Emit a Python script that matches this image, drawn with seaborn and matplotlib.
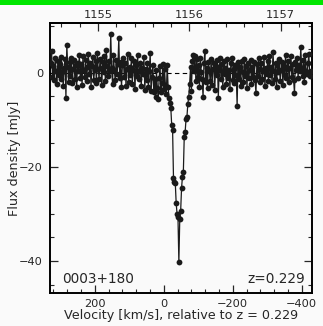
import numpy as np
import pandas as pd
import matplotlib
matplotlib.use("Agg")
import matplotlib.pyplot as plt
from matplotlib.ticker import MultipleLocator
from matplotlib.patches import Rectangle
import seaborn as sns

# ---- data ----
v_start = 328.0        # km/s, first channel
chan_width = 2.6       # km/s per channel

flux_left = [
    2.1, 4.7, -0.8, 1.5, -1.6, 3.2, 0.4, -2.3, 2.6, -0.5,
    1.8, -1.2, 3.4, 0.2, -2.8, 1.1, 2.9, -5.3, 6.0, 1.3,
    -1.9, 2.4, -0.6, 3.1, -2.2, 0.9, 2.7, -1.4, 1.6, -3.0,
    2.2, 0.5, 3.8, -1.1, 1.9, -2.5, 3.5, 0.7, -0.9, 2.8,
    -1.7, 1.2, 4.1, -0.3, 2.0, -2.9, 1.4, 3.3, -1.5, 0.6,
    2.5, -2.1, 4.3, 0.8, -1.3, 3.0, 1.1, -2.6, 2.3, 0.1,
    3.6, -1.8, 4.9, 1.5, -0.7, 2.6, 0.3, 8.3, 1.0, -2.4,
    3.9, 0.6, -1.6, 2.7, -0.2, 1.8, 7.4, -1.0, 2.4, -3.1,
    1.7, 3.2, -0.8, 2.1, -2.7, 0.9, 4.0, -1.9, 1.3, -0.4,
    3.1, -2.3, 0.7, 2.5, -3.4, 1.6, -0.6, 3.7, -1.2, 0.4,
    2.2, -2.8, 1.0, -0.3, 3.3, -3.6, 0.8, -1.5, 2.0, -2.9,
    0.3, 4.2, -3.8, -0.9, 1.7, -4.1, -1.3, -5.2, 0.6, -3.3,
    -5.5, -1.1, 1.5, -4.0, -2.2, 1.9, -3.5, 0.8, -2.6, -4.5,
    1.7, -3.0, -5.3,
]
flux_line = [
    -6.4, -7.4, -11.1, -12.1, -22.3, -23.2, -23.4, -27.7, -30.0, -30.6,
    -40.2, -31.1, -29.4, -24.5, -22.1, -21.1, -13.6, -12.6, -9.8, -9.4,
    -6.6, -5.1,
]
flux_right = [
    -2.4, 1.2, -3.9, 2.6, 3.8, 0.5, 3.5, -1.7, 2.9, -0.8,
    1.6, -2.9, 3.2, 0.2, -1.4, -5.1, 2.1, 4.7, -2.0, 1.0,
    -3.3, 2.4, 0.4, -1.8, 3.0, -2.6, 0.9, 2.2, -3.7, 1.4,
    -0.5, 2.8, -5.3, 0.7, 3.1, -1.2, 1.9, -3.0, 2.5, -0.3,
    1.1, -2.4, 2.9, -1.0, 0.6, -3.4, 2.0, 3.2, -1.6, 0.8,
    -2.1, 1.7, -0.4, -7.0, 2.3, -1.3, 1.2, -2.7, 2.6, 0.1,
    -1.9, 3.0, -0.7, 1.5, -3.2, 2.1, -1.1, 0.6, 2.7, -2.3,
    1.3, -0.9, 2.4, -1.5, -4.3, 1.8, -0.6, 3.1, -2.0, 0.9,
    2.2, -1.4, 0.3, 3.4, -2.8, 1.0, -0.2, 2.5, -1.7, 3.6,
    -0.5, 1.2, -2.2, 4.5, 0.4, -1.3, 2.1, -3.1, 1.6, 0.2,
    3.0, -1.8, 0.7, 2.3, -2.5, 1.4, -0.4, 3.8, -1.1, 0.9,
    2.6, -2.0, 1.1, 3.5, -0.8, 1.9, -1.5, -4.3, 2.4, 0.6,
    3.2, -1.0, 1.7, 0.3, 5.5, 1.1, -0.7, 2.8, -1.9, 3.7,
    0.5, -0.3, 2.0, 4.0, -0.6, 0.3,
]

flux = np.array(flux_left + flux_line + flux_right)
velocity = v_start - chan_width * np.arange(len(flux))
df = pd.DataFrame({"velocity": velocity, "flux": flux})

source_name = "0003+180"
redshift_label = "z=0.229"
xlabel = "Velocity [km/s], relative to z = 0.229"
ylabel = "Flux density [mJy]"
freq_ticks = [1155, 1156, 1157]
vel_ticks = [200, 0, -200, -400]
flux_ticks = [0, -20, -40]

# ---- figure ----
sns.set_theme(style="ticks")
plt.rcParams["font.family"] = ["DejaVu Sans"]
bg = "#fafafa"
fig = plt.figure(figsize=(3.23, 3.26), dpi=100, facecolor=bg)
fig.patches.append(Rectangle((0, 1 - 4.5 / 326), 1, 4.5 / 326, transform=fig.transFigure,
                             facecolor="#00e600", edgecolor="none", zorder=10))
ax = fig.add_axes([50 / 323, 1 - 293 / 326, 262 / 323, 270 / 326])
ax.set_facecolor(bg)

ax.axhline(0, color="black", lw=0.8, ls=(0, (4, 3)), zorder=1)
sns.lineplot(data=df, x="velocity", y="flux", ax=ax, color="#1a1a1a", lw=0.9,
             marker="o", markersize=4.2, markeredgewidth=0, estimator=None,
             sort=False, zorder=3)

ax.set_xlim(330, -430)
ax.set_ylim(-46.8, 10.6)
ax.set_xticks(vel_ticks)
ax.set_yticks(flux_ticks)
ax.xaxis.set_minor_locator(MultipleLocator(40))
ax.yaxis.set_minor_locator(MultipleLocator(5))
ax.set_xticklabels([("\u2212" + str(-t)) if t < 0 else str(t) for t in vel_ticks], fontsize=8.2)
ax.set_yticklabels([("\u2212" + str(-t)) if t < 0 else str(t) for t in flux_ticks], fontsize=8.2)
ax.tick_params(axis="x", which="major", pad=4)
ax.tick_params(axis="y", which="major", pad=5)
ax.tick_params(which="major", direction="in", length=6, width=0.9, top=False, right=True)
ax.tick_params(which="minor", direction="in", length=3, width=0.8, top=False, right=True)
for s in ax.spines.values():
    s.set_linewidth(1.4)
    s.set_color("black")

ax.set_xlabel(xlabel, fontsize=9.2, labelpad=0.3)
ax.set_ylabel(ylabel, fontsize=9.2, labelpad=-1.2)

def v2f(v):
    return 1155.72 - np.asarray(v) / 265.0

def f2v(f):
    return (1155.72 - np.asarray(f)) * 265.0

sec = ax.secondary_xaxis("top", functions=(v2f, f2v))
sec.set_xticks(freq_ticks)
sec.set_xticklabels([str(t) for t in freq_ticks], fontsize=8.2)
sec.xaxis.set_minor_locator(MultipleLocator(0.2))
sec.tick_params(which="major", direction="in", length=6, width=0.9, pad=2)
sec.tick_params(which="minor", direction="in", length=3, width=0.8)
sec.spines["top"].set_linewidth(1.4)

ax.text(0.045, 0.025, source_name, transform=ax.transAxes, fontsize=9.8,
        ha="left", va="bottom")
ax.text(0.975, 0.025, redshift_label, transform=ax.transAxes, fontsize=9.8,
        ha="right", va="bottom")

fig.savefig("out.png", dpi=100, facecolor=bg)
